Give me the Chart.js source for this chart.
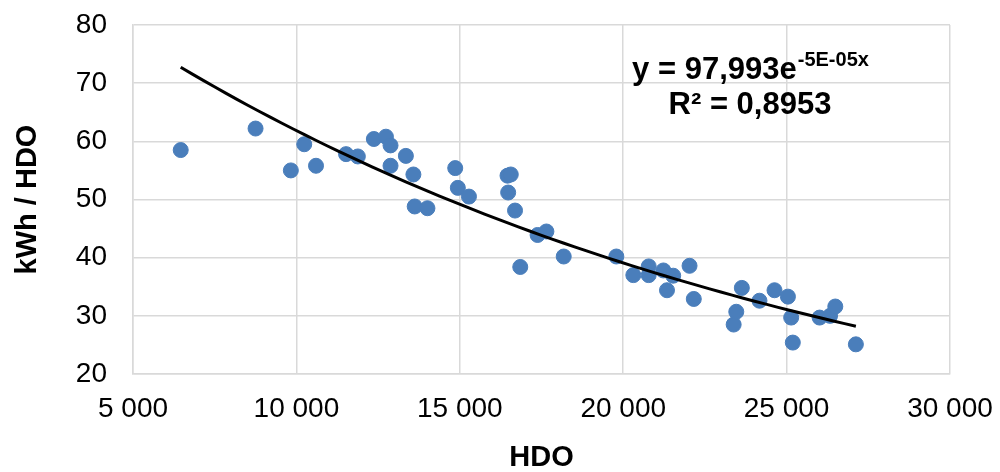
<!DOCTYPE html>
<html>
<head>
<meta charset="utf-8">
<script src="https://cdn.jsdelivr.net/npm/chart.js@4.4.1/dist/chart.umd.min.js"></script>
<style>
  html,body{margin:0;padding:0;background:#fff}
  #wrap{width:1000px;height:472px}
</style>
</head>
<body>
<div id="wrap"><canvas id="chart" width="1000" height="472"></canvas></div>
<script>
// HDO (x) vs kWh / HDO (y)
const hdo = [6460, 8750, 9830, 10240, 10600, 11520, 11880, 12370, 12740, 12880,
  12880, 13350, 13580, 13620, 14010, 14860, 14940, 15280, 16460, 16560,
  16480, 16690, 17380, 17650, 16850, 18180, 19790, 20310, 20780, 20780,
  21230, 21530, 22030, 21340, 22160, 23380, 23460, 23630, 24170, 24630,
  25040, 25140, 25190, 26010, 26330, 26490, 27120]
const kwh = [58.5, 62.2, 55.0, 59.5, 55.8, 57.8, 57.4, 60.4, 60.8, 59.3,
  55.8, 57.5, 54.3, 48.8, 48.5, 55.4, 52.0, 50.5, 54.1, 54.3,
  51.2, 48.1, 43.9, 44.5, 38.4, 40.2, 40.2, 37.0, 38.5, 37.0,
  37.8, 36.9, 38.6, 34.4, 32.9, 28.5, 30.7, 34.8, 32.6, 34.4,
  33.3, 29.7, 25.4, 29.7, 30.0, 31.6, 25.1]
const xTicks = [5000, 10000, 15000, 20000, 25000, 30000]
const yTicks = [20, 30, 40, 50, 60, 70, 80]
const eqLine1 = "y = 97,993e"
const eqSup = "-5E-05x"
const eqLine2 = "R² = 0,8953"

const FONT='"Liberation Sans", Arial, sans-serif'

// exponential trendline, least squares on ln(y) like Excel does
function expFit(xs, ys){
  var n=xs.length, sx=0, sy=0, sxx=0, sxy=0
  xs.forEach((x,i)=>{
    var ly=Math.log(ys[i])
    sx+=x; sy+=ly; sxx+=x*x; sxy+=x*ly
  })
  var b=(n*sxy-sx*sy)/(n*sxx-sx*sx)
  var a=Math.exp((sy-b*sx)/n)
  return {a:a,b:b}
}
var fit=expFit(hdo,kwh)
var xmin=Math.min(...hdo), xmax=Math.max(...hdo)
var trend=[]
for(var i=0;i<=60;i++){
  var x=xmin+(xmax-xmin)*i/60
  trend.push({x:x,y:fit.a*Math.exp(fit.b*x)})
}

var points=hdo.map((x,i)=>({x:x,y:kwh[i]}))

// scale paddings would eat into the plot area, zero them
noPad=(s)=>{
  s.paddingTop=0; s.paddingBottom=0; s.paddingLeft=0; s.paddingRight=0
}

const eqPlugin={
  id:'eq',
  afterDraw(chart){
    var ctx=chart.ctx
    ctx.save()
    ctx.fillStyle='#000'
    ctx.textBaseline='alphabetic'
    ctx.font='bold 31px '+FONT
    var w1=ctx.measureText(eqLine1).width
    ctx.font='bold 20px '+FONT
    var w2=ctx.measureText(eqSup).width
    var cx=750
    var x0=cx-(w1+w2)/2
    ctx.font='bold 31px '+FONT
    ctx.textAlign='left'
    ctx.fillText(eqLine1,x0,79)
    ctx.font='bold 20px '+FONT
    ctx.fillText(eqSup,x0+w1+1,66)
    ctx.font='bold 31px '+FONT
    ctx.textAlign='center'
    ctx.fillText(eqLine2,cx,114)
    ctx.restore()
  }
}

var ctx=document.getElementById('chart').getContext('2d')
var myChart=new Chart(ctx,{
  type:'scatter',
  data:{
    datasets:[{
      type:'line',
      data:trend,
      borderColor:'#000',
      borderWidth:3,
      pointRadius:0,
      fill:false,
      tension:0,
      order:0
    },{
      data:points,
      backgroundColor:'#4a7ebb',
      borderColor:'#4a7ebb',
      pointRadius:7.5,
      pointHoverRadius:7.5,
      order:1
    }]
  },
  plugins:[eqPlugin],
  options:{
    responsive:false,
    animation:false,
    events:[],
    layout:{padding:{top:25,right:50,left:0,bottom:0}},
    plugins:{legend:{display:false},tooltip:{enabled:false}},
    scales:{
      x:{
        type:'linear',
        min:5000,max:30000,
        afterBuildTicks:s=>{s.ticks=xTicks.map(v=>({value:v}))},
        afterFit:s=>{s.height=98; noPad(s)},
        grid:{color:'#d9d9d9',lineWidth:1.5,drawTicks:false},
        border:{color:'#d9d9d9',width:1.5},
        ticks:{
          padding:18,
          color:'#000',
          maxRotation:0,
          font:{family:FONT,size:28},
          callback:v=>v.toLocaleString('en-US').replace(',',' ')
        },
        title:{display:true,text:'HDO',color:'#000',
          font:{family:FONT,size:29,weight:'bold',lineHeight:1},
          padding:{top:0,bottom:0}}
      },
      y:{
        min:20,max:80,
        afterBuildTicks:s=>{s.ticks=yTicks.map(v=>({value:v}))},
        afterFit:s=>{s.width=133; noPad(s)},
        grid:{color:'#d9d9d9',lineWidth:1.5,drawTicks:false},
        border:{color:'#d9d9d9',width:1.5},
        ticks:{
          padding:26,
          color:'#000',
          font:{family:FONT,size:28}
        },
        title:{display:true,text:'kWh / HDO',color:'#000',
          font:{family:FONT,size:29,weight:'bold',lineHeight:1},
          padding:{top:13,bottom:0}}
      }
    }
  }
})
</script>
</body>
</html>
